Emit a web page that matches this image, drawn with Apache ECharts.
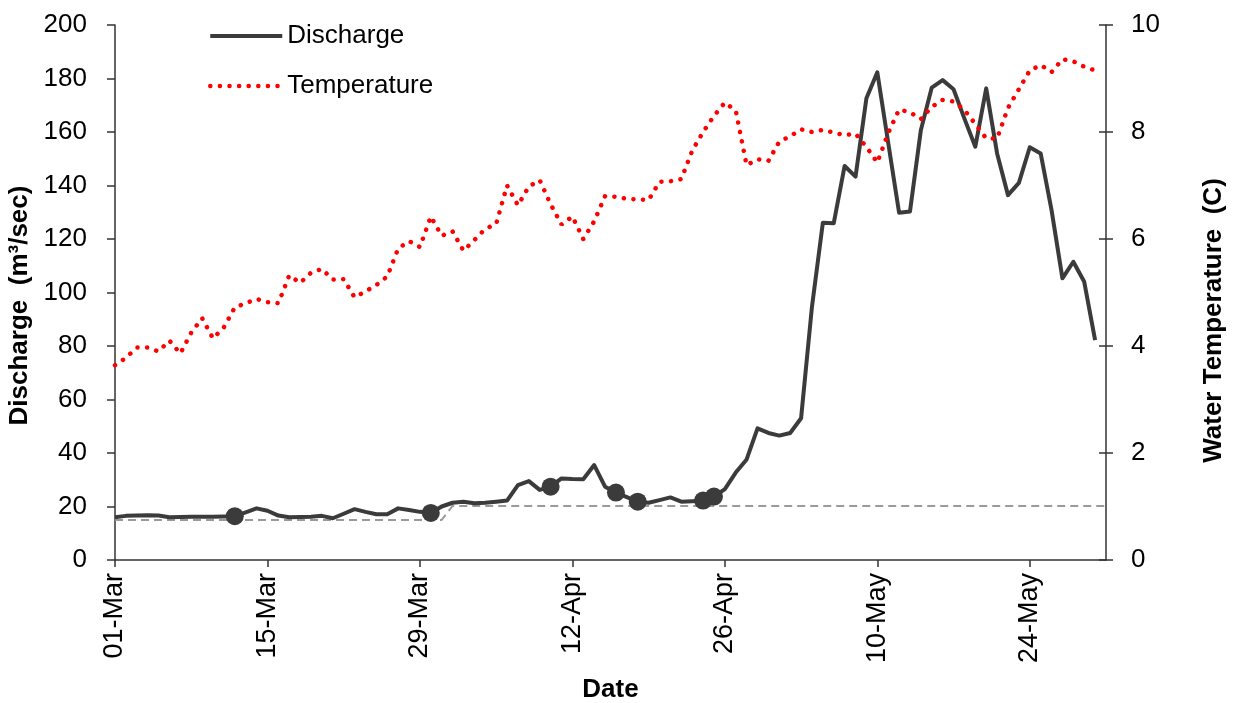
<!DOCTYPE html>
<html>
<head>
<meta charset="utf-8">
<title>Discharge and water temperature</title>
<script src="https://cdn.jsdelivr.net/npm/echarts@6.0.0/dist/echarts.min.js"></script>
<style>
html, body { margin: 0; padding: 0; background: #fff; }
#main { width: 1242px; height: 703px; }
</style>
</head>
<body>
<div id="main"></div>
<script>
// x values are days counted from 01-Mar (day 0)
var dischargeValues = [
  16.0, 16.5, 16.6, 16.7, 16.6, 16.0, 16.1, 16.2, 16.2, 16.2,
  16.3, 16.4, 17.8, 19.3, 18.4, 16.6, 16.0, 16.1, 16.2, 16.5,
  15.6, 17.3, 19.0, 18.0, 17.1, 17.1, 19.3, 18.7, 18.0, 17.6,
  20.0, 21.4, 21.8, 21.2, 21.4, 21.8, 22.2, 28.0, 29.5, 26.2,
  27.4, 30.5, 30.3, 30.2, 35.5, 27.4, 25.2, 23.5, 21.8, 21.4,
  22.4, 23.4, 21.8, 22.0, 22.2, 23.7, 26.5, 32.7, 37.6, 49.2,
  47.5, 46.5, 47.5, 53.0, 94.7, 126.1, 125.9, 147.3, 143.3, 172.6,
  182.3, 156.0, 129.8, 130.3, 160.7, 176.6, 179.4, 176.0, 165.0, 154.5,
  176.3, 152.0, 136.4, 141.0, 154.3, 152.0, 130.8, 105.3, 111.5, 104.0,
  82.2
];
var temperatureValues = [
  3.64, 3.78, 3.97, 3.97, 3.90, 4.10, 3.86, 4.25, 4.52, 4.14,
  4.35, 4.72, 4.80, 4.88, 4.82, 4.80, 5.32, 5.18, 5.37, 5.44,
  5.24, 5.25, 4.91, 5.02, 5.14, 5.30, 5.82, 5.96, 5.85, 6.42,
  6.06, 6.14, 5.78, 5.98, 6.19, 6.28, 7.00, 6.63, 6.98, 7.10,
  6.65, 6.27, 6.42, 6.00, 6.33, 6.80, 6.79, 6.75, 6.74, 6.73,
  7.07, 7.08, 7.12, 7.65, 8.00, 8.30, 8.55, 8.40, 7.38, 7.49,
  7.46, 7.82, 7.92, 8.05, 8.00, 8.04, 7.99, 7.94, 7.97, 7.72,
  7.43, 7.98, 8.42, 8.37, 8.24, 8.47, 8.60, 8.57, 8.41, 8.15,
  7.88, 7.88, 8.45, 8.80, 9.15, 9.25, 9.12, 9.36, 9.32, 9.22,
  9.15
];
var sampleDays = [11, 29, 40, 46, 48, 54, 55];
var sampleValues = [16.4, 17.6, 27.4, 25.2, 21.8, 22.2, 23.7];
var baselineDays = [0, 30, 31, 91];
var baselineValues = [15, 15, 20.2, 20.2];
var tickDays = [0, 14, 28, 42, 56, 70, 84];
var tickLabels = ['01-Mar', '15-Mar', '29-Mar', '12-Apr', '26-Apr', '10-May', '24-May'];

function byDay(values) {
  var out = [];
  for (var i = 0; i < values.length; i++) out.push([i, values[i]]);
  return out;
}
function zip(xs, ys) {
  var out = [];
  for (var i = 0; i < xs.length; i++) out.push([xs[i], ys[i]]);
  return out;
}

var font = 'Liberation Sans, Arial, sans-serif';
var axisColor = '#333';

var myChart = echarts.init(document.getElementById('main'));

var option = {
  animation: false,
  backgroundColor: '#fff',
  grid: { left: 115, right: 136, top: 25, bottom: 143, outerBoundsMode: 'none' },
  legend: {
    data: [
      { name: 'Discharge', lineStyle: { width: 4 }, itemStyle: { opacity: 0 } },
      { name: 'Temperature', lineStyle: { width: 4.5 }, itemStyle: { opacity: 0 } }
    ],
    orient: 'vertical',
    left: 203,
    top: 18,
    itemWidth: 72,
    itemHeight: 6,
    itemGap: 24,
    selectedMode: false,
    textStyle: { fontFamily: font, fontSize: 26, color: '#000' }
  },
  xAxis: {
    type: 'value',
    min: 0,
    max: 91,
    interval: 14,
    name: 'Date',
    nameLocation: 'middle',
    nameGap: 117,
    nameTextStyle: { fontFamily: font, fontSize: 26, fontWeight: 'bold', color: '#000' },
    axisLine: { lineStyle: { color: axisColor, width: 1.5 } },
    axisTick: { length: 7, lineStyle: { color: axisColor, width: 1.5 }, customValues: tickDays },
    axisLabel: {
      rotate: 90,
      margin: 13,
      fontFamily: font,
      fontSize: 27,
      color: '#000',
      customValues: tickDays,
      formatter: function (v) {
        var i = tickDays.indexOf(v);
        return i < 0 ? '' : tickLabels[i];
      }
    },
    splitLine: { show: false }
  },
  yAxis: [
    {
      type: 'value',
      position: 'left',
      min: 0,
      max: 200,
      interval: 20,
      name: 'Discharge  (m³/sec)',
      nameLocation: 'middle',
      nameRotate: 90,
      nameGap: 77,
      nameTextStyle: { fontFamily: font, fontSize: 26, fontWeight: 'bold', color: '#000', padding: [0, 26, 0, 0] },
      axisLine: { show: true, lineStyle: { color: axisColor, width: 1.5 } },
      axisTick: { show: true, length: 8, lineStyle: { color: axisColor, width: 1.5 } },
      axisLabel: { margin: 28, fontFamily: font, fontSize: 26, color: '#000' },
      splitLine: { show: false }
    },
    {
      type: 'value',
      position: 'right',
      min: 0,
      max: 10,
      interval: 2,
      name: 'Water Temperature  (C)',
      nameLocation: 'middle',
      nameRotate: 90,
      nameGap: 95,
      nameTextStyle: { fontFamily: font, fontSize: 26, fontWeight: 'bold', color: '#000', padding: [0, 56, 0, 0] },
      axisLine: { show: true, lineStyle: { color: axisColor, width: 1.5 } },
      axisTick: { show: true, length: 7, lineStyle: { color: axisColor, width: 1.5 } },
      axisLabel: { margin: 25, fontFamily: font, fontSize: 26, color: '#000' },
      splitLine: { show: false }
    },
    {
      // inner half of the crossing ticks on the right axis
      type: 'value',
      position: 'right',
      min: 0,
      max: 10,
      interval: 2,
      axisLine: { show: false },
      axisTick: { show: true, inside: true, length: 7, lineStyle: { color: axisColor, width: 1.5 } },
      axisLabel: { show: false },
      splitLine: { show: false }
    }
  ],
  series: [
    {
      name: 'Baseline',
      type: 'line',
      data: zip(baselineDays, baselineValues),
      symbol: 'none',
      silent: true,
      lineStyle: { color: '#9a9a9a', width: 2, type: [8, 5] },
      z: 1
    },
    {
      name: 'Discharge',
      type: 'line',
      data: byDay(dischargeValues),
      symbol: 'none',
      lineStyle: { color: '#3b3b3b', width: 4, join: 'round' },
      itemStyle: { color: '#3b3b3b' },
      z: 3
    },
    {
      name: 'Samples',
      type: 'scatter',
      data: zip(sampleDays, sampleValues),
      symbol: 'circle',
      symbolSize: 18,
      itemStyle: { color: '#3b3b3b', opacity: 1 },
      z: 4
    },
    {
      name: 'Temperature',
      type: 'line',
      yAxisIndex: 1,
      data: byDay(temperatureValues),
      symbol: 'none',
      lineStyle: { color: '#ff0000', width: 4.5, type: [0.1, 9.5], cap: 'round' },
      itemStyle: { color: '#ff0000' },
      z: 5
    }
  ]
};

myChart.setOption(option);
</script>
</body>
</html>
